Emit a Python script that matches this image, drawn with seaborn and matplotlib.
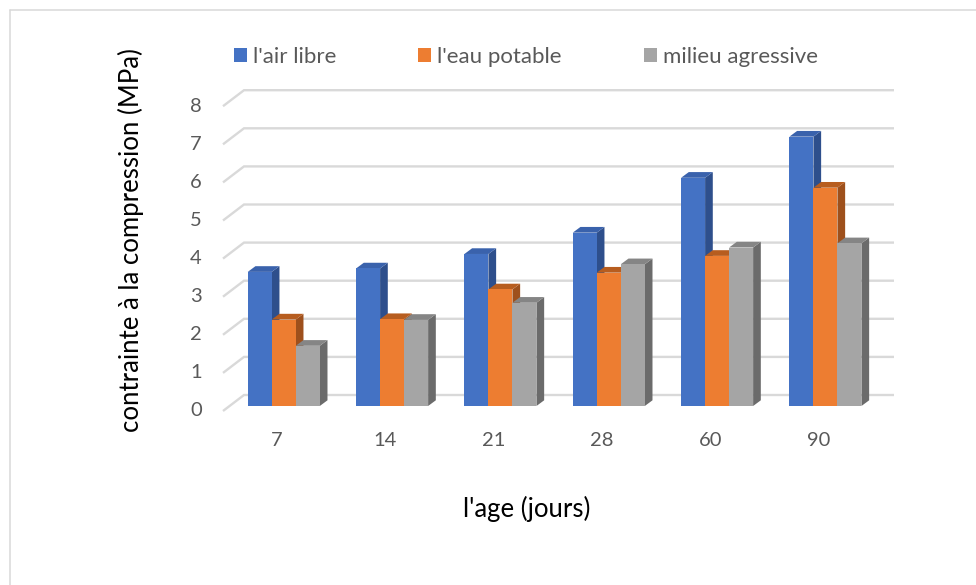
import numpy as np
import pandas as pd
import matplotlib
matplotlib.use("Agg")
import matplotlib.pyplot as plt
from matplotlib.patches import Polygon, Patch
from matplotlib.lines import Line2D
import seaborn as sns

# Data
ages = ["7", "14", "21", "28", "60", "90"]
series = ["l'air libre", "l'eau potable", "milieu agressive"]
air_libre = [3.52, 3.61, 3.99, 4.55, 5.99, 7.07]
eau_potable = [2.27, 2.28, 3.06, 3.50, 3.94, 5.73]
milieu_agressive = [1.58, 2.26, 2.71, 3.72, 4.16, 4.27]
y_ticks = [0, 1, 2, 3, 4, 5, 6, 7, 8]

x_title = "l'age (jours)"
y_title = "contrainte à la compression (MPa)"

# Face colours of the pseudo-3D columns
front_colors = ["#4472C4", "#ED7D31", "#A5A5A5"]
side_colors = ["#2E4F8C", "#9E501C", "#6B6B6B"]
top_colors = ["#3A62AC", "#B75D1F", "#858585"]
grid_color = "#D9D9D9"
tick_color = "#595959"

# Pixel offsets used for the oblique projection
BAR_DEPTH = (7.7, 5.7)
WALL = (14.4, 11.0)
FLOOR_FRONT = (-6.6, -5.0)

TICK_FS = 14.5
LEGEND_FS = 16
TITLE_FS = 18.5

df = pd.DataFrame({
    "age": ages * len(series),
    "serie": np.repeat(series, len(ages)),
    "valeur": air_libre + eau_potable + milieu_agressive,
})

sns.set_theme(style="white")
plt.rcParams["font.family"] = ["Lato", "DejaVu Sans"]

W, H = 976, 585
fig = plt.figure(figsize=(W / 100, H / 100), dpi=100)
fig.patch.set_facecolor("white")
ax = fig.add_axes([229.6 / W, (H - 406) / H, 650 / W, (406 - 101.2) / H])

sns.barplot(data=df, x="age", y="valeur", hue="serie", order=ages,
            hue_order=series, palette=front_colors, width=0.665,
            saturation=1, errorbar=None, legend=False, linewidth=0, ax=ax)

x_lo, x_hi = -0.5, len(ages) - 0.5
ax.set_xlim(x_lo, x_hi)
ax.set_ylim(0, 8)
ax.set_axis_off()


def px(dx, dy):
    """Convert a pixel offset into data units."""
    inv = ax.transData.inverted()
    p0 = ax.transData.transform((0.0, 0.0))
    d = inv.transform(p0 + np.array([dx, dy]))
    return d[0], d[1]


wx, wy = px(*WALL)
fx, fy = px(*FLOOR_FRONT)

# Side wall / back wall gridlines
for v in y_ticks:
    ax.plot([x_lo + fx, x_lo + wx, x_hi + wx], [v + fy, v + wy, v + wy],
            color=grid_color, lw=1.7, zorder=1, clip_on=False,
            solid_capstyle="butt", solid_joinstyle="miter")

# Side and top faces of each column
bx, by = px(*BAR_DEPTH)
for h, cont in enumerate(ax.containers):
    for p in cont:
        p.set_zorder(3 + h)
        p.set_linewidth(0)
        x0 = p.get_x()
        x1 = x0 + p.get_width()
        top = p.get_height()
        side = Polygon([(x1, 0), (x1 + bx, by), (x1 + bx, top + by), (x1, top)],
                       closed=True, facecolor=side_colors[h], edgecolor="none",
                       zorder=2.5 + h, clip_on=False)
        lid = Polygon([(x0, top), (x1, top), (x1 + bx, top + by), (x0 + bx, top + by)],
                      closed=True, facecolor=top_colors[h], edgecolor="none",
                      zorder=2.5 + h, clip_on=False)
        ax.add_patch(side)
        ax.add_patch(lid)

# Value axis labels on the front edge of the floor
lx, _ = px(FLOOR_FRONT[0] - 21, 0)
for v in y_ticks:
    ax.text(x_lo + lx, v + fy, str(v), ha="right", va="center",
            fontsize=TICK_FS, color=tick_color, clip_on=False)

# Category labels
cx, cy = px(FLOOR_FRONT[0], FLOOR_FRONT[1] - 30)
for i, a in enumerate(ages):
    ax.text(i + cx, cy, a, ha="center", va="center", fontsize=TICK_FS,
            color=tick_color, clip_on=False)

# Axis titles
fig.text(131 / W, 1 - 240 / H, y_title, rotation=90, ha="center", va="center",
         fontsize=TITLE_FS, color="black")
fig.text(527 / W, 1 - 509 / H, x_title, ha="center", va="center",
         fontsize=TITLE_FS, color="black")

# Legend
em = LEGEND_FS * 100 / 72
handles = [Patch(facecolor=c, edgecolor="none") for c in front_colors]
fig.legend(handles, series, loc="center left",
           bbox_to_anchor=(234 / W, 1 - 57 / H), ncol=3, frameon=False,
           fontsize=LEGEND_FS, handlelength=13 / em, handleheight=13 / em,
           handletextpad=6 / em, columnspacing=82 / em, borderpad=0,
           borderaxespad=0, labelcolor=tick_color)

# Chart area border
fig.add_artist(Line2D([9.5 / W, 9.5 / W], [0, 1 - 9.5 / H],
                      transform=fig.transFigure, color=grid_color, lw=1.1))
fig.add_artist(Line2D([9.5 / W, 1], [1 - 9.5 / H, 1 - 9.5 / H],
                      transform=fig.transFigure, color=grid_color, lw=1.1))

fig.savefig("out.png", dpi=100, facecolor="white")
